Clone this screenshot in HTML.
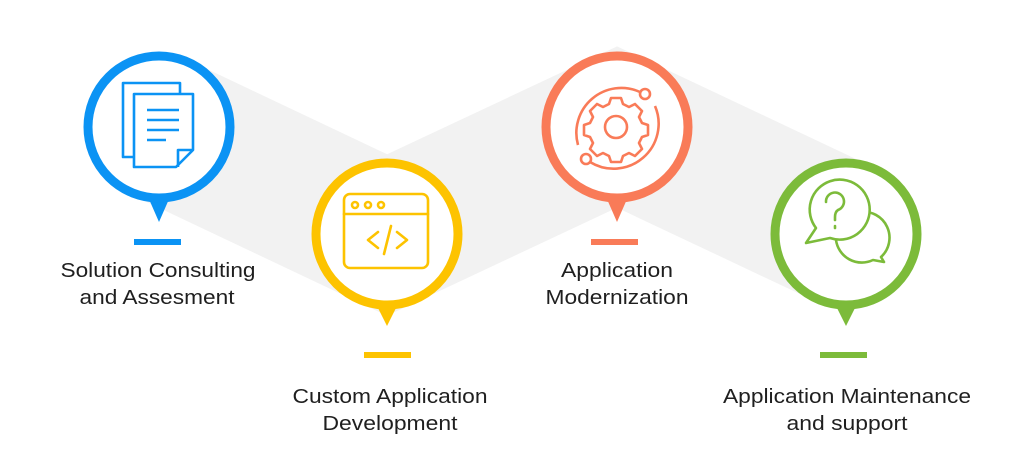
<!DOCTYPE html>
<html><head><meta charset="utf-8"><style>
html,body{margin:0;padding:0;background:#fff;}
svg{display:block;}
text{font-family:"Liberation Sans",sans-serif;font-size:20px;fill:#1f1f1f;}
</style></head><body>
<svg width="1024" height="476" viewBox="0 0 1024 476" xmlns="http://www.w3.org/2000/svg">
<polyline points="159,127 387,235 617,127 846,235" fill="none" stroke="#f2f2f2" stroke-width="146" stroke-linejoin="miter" stroke-miterlimit="10"/>

<!-- blue -->
<g>
<polygon points="145,190 173,190 159,222" fill="#0b93f4"/>
<circle cx="159" cy="127" r="71" fill="#fff" stroke="#0b93f4" stroke-width="9"/>
<rect x="134" y="239" width="47" height="6" fill="#0b93f4"/>
<g fill="none" stroke="#0b93f4" stroke-width="2.6" stroke-linejoin="round">
<path d="M134,157 H123 V83 H180 V94"/>
<path d="M134,94 H193 V150 L176,167 H134 Z"/>
<path d="M193,150 H178 V167"/>
<line x1="147" y1="110" x2="179" y2="110"/><line x1="147" y1="120" x2="179" y2="120"/><line x1="147" y1="130" x2="179" y2="130"/><line x1="147" y1="140" x2="166" y2="140"/>
</g>
</g>
<!-- yellow -->
<g>
<polygon points="373,298 401,298 387,326" fill="#fdc300"/>
<circle cx="387" cy="234" r="71" fill="#fff" stroke="#fdc300" stroke-width="9"/>
<rect x="364" y="352" width="47" height="6" fill="#fdc300"/>
<g fill="none" stroke="#fdc300" stroke-width="2.6" stroke-linejoin="round" stroke-linecap="round">
<rect x="344" y="194" width="84" height="74" rx="6"/>
<line x1="344" y1="214" x2="428" y2="214"/>
<circle cx="355" cy="205" r="3"/><circle cx="368" cy="205" r="3"/><circle cx="381" cy="205" r="3"/>
<path d="M378,232 L368,240 L378,248"/><path d="M397,232 L407,240 L397,248"/><line x1="391" y1="226" x2="384" y2="254"/>
</g>
</g>
<!-- orange -->
<g>
<polygon points="603,190 631,190 617,222" fill="#f97b58"/>
<circle cx="617" cy="127" r="71" fill="#fff" stroke="#f97b58" stroke-width="9"/>
<rect x="591" y="239" width="47" height="6" fill="#f97b58"/>
<g fill="none" stroke="#f97b58" stroke-width="2.6" stroke-linejoin="round">
<circle cx="616" cy="127" r="11"/>
<path d="M611,98 h10 l2,6 l6,3 l6,-3 l7,7 l-3,6 l3,6 l6,2 v10 l-6,2 l-3,6 l3,6 l-7,7 l-6,-3 l-6,3 l-2,6 h-10 l-2,-6 l-6,-3 l-6,3 l-7,-7 l3,-6 l-3,-6 l-6,-2 v-10 l6,-2 l3,-6 l-3,-6 l7,-7 l6,3 l6,-3 z"/>
<path d="M640,92 A45,45 0 0 0 578,145"/>
<path d="M590,162 A45,45 0 0 0 655,106"/>
<circle cx="645" cy="94" r="5"/><circle cx="586" cy="159" r="5"/>
</g>
</g>
<!-- green -->
<g>
<polygon points="832,298 860,298 846,326" fill="#7cbb3a"/>
<circle cx="846" cy="234" r="71" fill="#fff" stroke="#7cbb3a" stroke-width="9"/>
<rect x="820" y="352" width="47" height="6" fill="#7cbb3a"/>
<g fill="none" stroke="#7cbb3a" stroke-width="2.6" stroke-linejoin="round" stroke-linecap="round">
<path d="M860,212 A26,26 0 0 1 881,257 L884,262 L873,260 A26,26 0 0 1 836,240"/>
<path d="M816,228 A30,30 0 1 1 830,238 L806,243 Z" fill="#fff"/>
<path d="M826,202 A9,9 0 1 1 838,210 Q835,212 835,217 V220"/>
<line x1="835" y1="226" x2="835" y2="228"/>
</g>
</g>

<text x="158" y="277" text-anchor="middle" textLength="195" lengthAdjust="spacingAndGlyphs">Solution Consulting</text>
<text x="157" y="304" text-anchor="middle" textLength="155" lengthAdjust="spacingAndGlyphs">and Assesment</text>
<text x="390" y="403" text-anchor="middle" textLength="195" lengthAdjust="spacingAndGlyphs">Custom Application</text>
<text x="390" y="430" text-anchor="middle" textLength="135" lengthAdjust="spacingAndGlyphs">Development</text>
<text x="617" y="277" text-anchor="middle" textLength="112" lengthAdjust="spacingAndGlyphs">Application</text>
<text x="617" y="304" text-anchor="middle" textLength="143" lengthAdjust="spacingAndGlyphs">Modernization</text>
<text x="847" y="403" text-anchor="middle" textLength="248" lengthAdjust="spacingAndGlyphs">Application Maintenance</text>
<text x="847" y="430" text-anchor="middle" textLength="121" lengthAdjust="spacingAndGlyphs">and support</text>
</svg>
</body></html>
